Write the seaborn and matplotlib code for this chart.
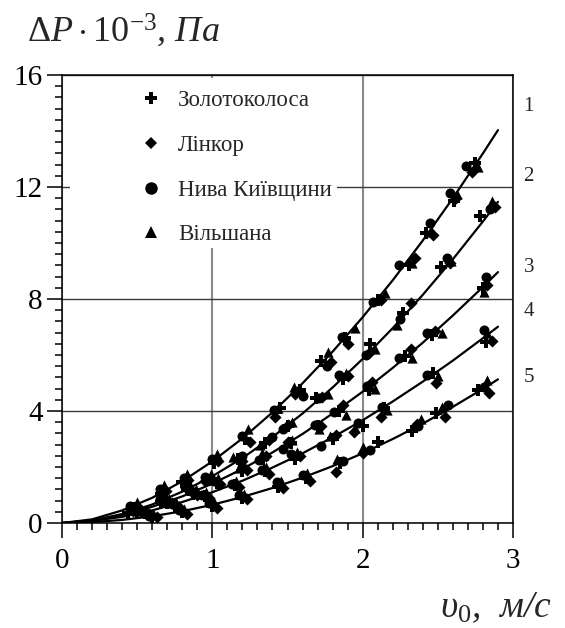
import matplotlib
matplotlib.use("Agg")
import matplotlib.pyplot as plt
from matplotlib.lines import Line2D
from matplotlib.patches import Rectangle
from matplotlib.ticker import MultipleLocator
import pandas as pd
import seaborn as sns

# Pressure drop ΔP (10^3 Pa) against air velocity υ0 (m/s) for four wheat varieties
varieties = ["Золотоколоса", "Лінкор", "Нива Київщини", "Вільшана"]
curve_labels = ["1", "2", "3", "4", "5"]

# Approximating curves 1-5
fit_v = [0.0, 0.2, 0.4, 0.6, 0.8, 1.0, 1.2, 1.4, 1.6, 1.8, 2.0, 2.2, 2.4, 2.6, 2.8, 2.9]
fit_1 = [0, 0.13, 0.45, 0.90, 1.49, 2.20, 3.02, 3.95, 4.99, 6.12, 7.35, 8.67, 10.09, 11.60, 13.20, 14.03]
fit_2 = [0, 0.09, 0.32, 0.66, 1.12, 1.67, 2.32, 3.07, 3.91, 4.84, 5.86, 6.96, 8.15, 9.42, 10.77, 11.47]
fit_3 = [0, 0.085, 0.285, 0.58, 0.95, 1.405, 1.93, 2.52, 3.18, 3.91, 4.69, 5.54, 6.44, 7.41, 8.43, 8.96]
fit_4 = [0, 0.07, 0.22, 0.45, 0.75, 1.10, 1.51, 1.98, 2.49, 3.06, 3.67, 4.34, 5.05, 5.80, 6.60, 7.01]
fit_5 = [0, 0.03, 0.11, 0.24, 0.42, 0.65, 0.93, 1.25, 1.62, 2.03, 2.49, 3.00, 3.55, 4.15, 4.79, 5.13]

# Measured points, Золотоколоса
zol_v = [0.47, 0.66, 0.80, 1.01, 1.22, 1.45, 1.58, 1.72, 1.88, 2.10, 2.31, 2.42, 2.61, 2.75,
         0.44, 0.66, 0.83, 0.98, 1.17, 1.35, 1.50, 1.69, 1.87, 2.05, 2.27, 2.52, 2.78,
         0.50, 0.70, 0.87, 1.03, 1.20, 1.34, 1.52, 1.70, 1.84, 2.04, 2.28, 2.46, 2.80,
         0.55, 0.75, 0.95, 1.15, 1.35, 1.55, 1.80, 2.00, 2.14, 2.47, 2.82,
         0.60, 0.80, 1.00, 1.20, 1.44, 1.62, 1.85, 2.10, 2.33, 2.49, 2.77]
zol_p = [0.55, 1.05, 1.45, 2.15, 3.00, 4.10, 4.75, 5.80, 6.60, 7.95, 9.20, 10.35, 11.50, 12.85,
         0.35, 0.75, 1.20, 1.55, 2.30, 2.85, 3.45, 4.45, 5.15, 6.40, 7.50, 9.15, 10.95,
         0.38, 0.72, 1.05, 1.42, 1.85, 2.30, 2.85, 3.45, 4.00, 4.75, 5.95, 6.70, 8.40,
         0.35, 0.62, 0.95, 1.35, 1.85, 2.30, 3.00, 3.45, 4.10, 5.35, 6.46,
         0.20, 0.38, 0.60, 0.90, 1.30, 1.60, 2.15, 2.90, 3.30, 3.93, 4.75]

# Лінкор
lin_v = [0.50, 0.69, 0.84, 1.04, 1.25, 1.42, 1.55, 1.79, 1.90, 2.12, 2.35, 2.47, 2.62, 2.73,
         0.47, 0.70, 0.86, 0.95, 1.20, 1.38, 1.50, 1.73, 1.90, 2.05, 2.32, 2.58, 2.88,
         0.53, 0.73, 0.90, 1.05, 1.23, 1.36, 1.50, 1.72, 1.87, 2.06, 2.32, 2.48, 2.83,
         0.58, 0.78, 0.98, 1.18, 1.38, 1.58, 1.82, 1.94, 2.12, 2.49, 2.86,
         0.63, 0.83, 1.03, 1.23, 1.47, 1.65, 1.82, 2.00, 2.36, 2.55, 2.84]
lin_p = [0.62, 1.15, 1.55, 2.20, 2.90, 3.80, 4.60, 5.75, 6.40, 7.95, 9.45, 10.30, 11.60, 12.55,
         0.42, 0.80, 1.15, 1.50, 2.20, 2.95, 3.50, 4.50, 5.25, 6.10, 7.86, 9.30, 11.30,
         0.42, 0.70, 1.00, 1.38, 1.90, 2.40, 2.90, 3.45, 4.20, 5.05, 6.20, 6.85, 8.50,
         0.33, 0.58, 0.90, 1.28, 1.75, 2.40, 3.15, 3.25, 3.80, 5.00, 6.50,
         0.22, 0.33, 0.55, 0.85, 1.25, 1.50, 1.82, 2.50, 3.55, 3.79, 4.64]

# Нива Київщини
niva_v = [0.45, 0.65, 0.81, 1.00, 1.20, 1.41, 1.60, 1.76, 1.86, 2.07, 2.24, 2.45, 2.58, 2.69,
          0.45, 0.65, 0.82, 0.95, 1.20, 1.40, 1.47, 1.71, 1.84, 2.02, 2.25, 2.56, 2.85,
          0.48, 0.68, 0.86, 1.01, 1.20, 1.31, 1.47, 1.68, 1.81, 2.03, 2.24, 2.43, 2.82,
          0.53, 0.73, 0.93, 1.13, 1.33, 1.52, 1.72, 1.97, 2.13, 2.43, 2.81,
          0.58, 0.78, 0.98, 1.18, 1.43, 1.60, 1.87, 2.05, 2.37, 2.57, 2.81]
niva_p = [0.60, 1.20, 1.60, 2.30, 3.10, 4.05, 4.55, 5.60, 6.65, 7.90, 9.20, 10.70, 11.80, 12.75,
          0.50, 0.85, 1.30, 1.65, 2.40, 3.07, 3.35, 4.46, 5.30, 6.00, 7.30, 9.45, 11.20,
          0.45, 0.80, 1.15, 1.50, 2.00, 2.25, 2.65, 3.50, 3.95, 4.90, 5.90, 6.80, 8.80,
          0.38, 0.68, 1.00, 1.40, 1.90, 2.45, 2.75, 3.57, 4.15, 5.30, 6.90,
          0.25, 0.45, 0.70, 1.00, 1.45, 1.70, 2.20, 2.60, 3.45, 4.20, 4.85]

# Вільшана
vil_v = [0.50, 0.68, 0.83, 1.03, 1.24, 1.44, 1.54, 1.77, 1.95, 2.15, 2.33, 2.46, 2.63, 2.77,
         0.48, 0.68, 0.85, 0.99, 1.14, 1.32, 1.53, 1.77, 1.89, 2.08, 2.23, 2.59, 2.86,
         0.52, 0.71, 0.89, 1.04, 1.18, 1.33, 1.53, 1.71, 1.89, 2.08, 2.33, 2.53, 2.81,
         0.56, 0.76, 0.96, 1.16, 1.36, 1.56, 1.78, 1.95, 2.16, 2.50, 2.83,
         0.61, 0.81, 1.01, 1.21, 1.46, 1.63, 1.83, 2.00, 2.39, 2.53, 2.83]
vil_p = [0.75, 1.35, 1.75, 2.45, 3.35, 4.10, 4.85, 6.10, 6.95, 8.20, 9.30, 10.40, 11.75, 12.70,
         0.55, 0.95, 1.35, 1.75, 2.35, 2.80, 3.60, 4.60, 5.35, 6.20, 7.07, 9.35, 11.50,
         0.48, 0.85, 1.20, 1.60, 1.95, 2.50, 2.95, 3.35, 3.85, 4.80, 5.90, 6.80, 8.25,
         0.45, 0.75, 1.10, 1.50, 2.00, 2.55, 3.10, 3.40, 4.05, 5.25, 6.80,
         0.30, 0.50, 0.75, 1.05, 1.50, 1.80, 2.30, 2.70, 3.70, 4.14, 5.10]

# Where the curve numbers sit, in data units
label_v = [3.07, 3.07, 3.07, 3.07, 3.07]
label_p = [14.86, 12.39, 9.14, 7.57, 5.18]

sns.set_style("ticks")
plt.rcParams["font.family"] = ["Liberation Serif", "DejaVu Serif"]
plt.rcParams["mathtext.fontset"] = "custom"
plt.rcParams["mathtext.rm"] = "Liberation Serif"
plt.rcParams["mathtext.it"] = "Liberation Serif:italic"
plt.rcParams["mathtext.bf"] = "Liberation Serif:bold"

fig = plt.figure(figsize=(5.65, 6.28), dpi=100)
ax = fig.add_axes([62 / 565, 1 - 523 / 628, 451 / 565, 448 / 628])

points = pd.DataFrame({
    "v": zol_v + lin_v + niva_v + vil_v,
    "p": zol_p + lin_p + niva_p + vil_p,
    "variety": ([varieties[0]] * len(zol_v) + [varieties[1]] * len(lin_v)
                + [varieties[2]] * len(niva_v) + [varieties[3]] * len(vil_v)),
})

marker_of = {varieties[0]: "P", varieties[1]: "D", varieties[2]: "o", varieties[3]: "^"}
size_of = {varieties[0]: 66, varieties[1]: 38, varieties[2]: 52, varieties[3]: 54}

for fit in [fit_1, fit_2, fit_3, fit_4, fit_5]:
    sns.lineplot(x=fit_v, y=fit, ax=ax, color="black", linewidth=1.6,
                 estimator=None, sort=False, zorder=3)

for name in varieties:
    sub = points[points["variety"] == name]
    sns.scatterplot(data=sub, x="v", y="p", ax=ax, marker=marker_of[name],
                    s=size_of[name], color="black", edgecolor="black",
                    linewidth=0, legend=False, zorder=4)

ax.set_xlim(0, 3)
ax.set_ylim(0, 16)
ax.xaxis.set_major_locator(MultipleLocator(1))
ax.xaxis.set_minor_locator(MultipleLocator(0.1))
ax.yaxis.set_major_locator(MultipleLocator(4))
ax.yaxis.set_minor_locator(MultipleLocator(0.4))
ax.set_xticks([0, 1, 2, 3])
ax.set_xticklabels(["0", "1", "2", "3"])
ax.set_yticks([0, 4, 8, 12, 16])
ax.set_yticklabels(["0", "4", "8", "12", "16"])
ax.set_xlabel("")
ax.set_ylabel("")

ax.tick_params(which="major", direction="out", length=11, width=1.1,
               labelsize=21, colors="black")
ax.tick_params(axis="x", which="major", pad=7)
ax.tick_params(axis="y", which="major", pad=3)
ax.tick_params(which="minor", direction="out", length=5, width=1.1, colors="black")
for side in ["left", "right", "top", "bottom"]:
    ax.spines[side].set_visible(True)
    ax.spines[side].set_linewidth(1.1)
    ax.spines[side].set_color("black")

ax.set_axisbelow(True)
ax.xaxis.grid(True, which="major", color="#8a8a8a", linewidth=1.5)
ax.yaxis.grid(True, which="major", color="#3a3a3a", linewidth=1.0)

# White panel under the legend
ax.add_patch(Rectangle((0.018, 0.614), 0.592, 0.379, transform=ax.transAxes,
                       facecolor="white", edgecolor="none", zorder=1))

handles = [Line2D([], [], linestyle="none", marker=marker_of[n], color="black",
                  markersize=9 if marker_of[n] != "D" else 6.5, markeredgewidth=0)
           for n in varieties]
ax.legend(handles, varieties, loc="upper left", bbox_to_anchor=(0.173, 0.966),
          frameon=False, fontsize=16.5, handlelength=0.95, handletextpad=0.72,
          labelspacing=1.03, borderpad=0, borderaxespad=0)

for lab, lv, lp in zip(curve_labels, label_v, label_p):
    ax.text(lv, lp, lab, fontsize=15, ha="left", va="center", clip_on=False)

fig.text(27 / 565, 1 - 42 / 628, r"$\Delta P\cdot10^{-3}$" + ", Па",
         fontsize=26, style="italic", ha="left", va="baseline")
fig.text(440 / 565, 1 - 617 / 628, r"$\upsilon_0$" + ",  м/с",
         fontsize=27, style="italic", ha="left", va="baseline")

fig.savefig("out.png", dpi=100)
